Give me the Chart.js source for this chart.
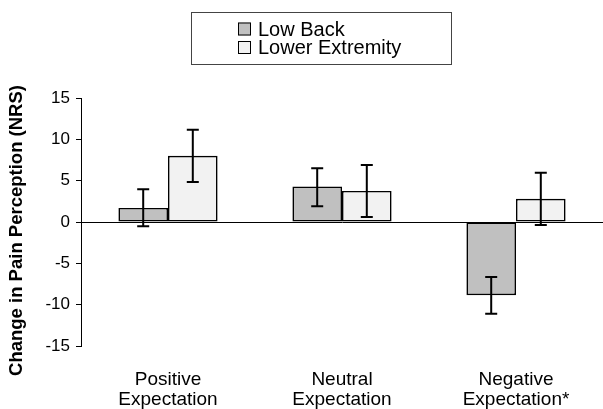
<!DOCTYPE html>
<html>
<head>
<meta charset="utf-8">
<script src="https://cdn.jsdelivr.net/npm/chart.js@4.4.0/dist/chart.umd.min.js"></script>
<style>
html,body{margin:0;padding:0;background:#fff;}
#wrap{width:603px;height:409px;position:relative;}
</style>
</head>
<body>
<div id="wrap"><canvas id="c" width="603" height="409"></canvas></div>
<script>
const categories = [["Positive","Expectation"],["Neutral","Expectation"],["Negative","Expectation*"]];
const seriesNames = ["Low Back","Lower Extremity"];
const lowBack = [1.7, 4.3, -8.85];
const lowBackErrLow = [-0.5, 1.9, -11.1];
const lowBackErrHigh = [3.95, 6.5, -6.65];
const lowerExt = [8.0, 3.75, 2.8];
const lowerExtErrLow = [4.85, 0.6, -0.35];
const lowerExtErrHigh = [11.15, 6.9, 5.95];
const yTicks = [-15, -10, -5, 0, 5, 10, 15];
const yTitle = "Change in Pain Perception (NRS)";

const FONT = "'Liberation Sans', Arial, Helvetica, sans-serif";

const errorBars = {
  id: 'errorBars',
  afterDatasetsDraw(chart) {
    const ctx = chart.ctx;
    const ys = chart.scales.y;
    chart.data.datasets.forEach((ds, i) => {
      const meta = chart.getDatasetMeta(i);
      meta.data.forEach((bar, j) => {
        const x = bar.x;
        const y1 = ys.getPixelForValue(ds.errLow[j]);
        const y2 = ys.getPixelForValue(ds.errHigh[j]);
        ctx.save();
        ctx.strokeStyle = '#000';
        ctx.lineWidth = 2;
        ctx.beginPath();
        ctx.moveTo(x, y1); ctx.lineTo(x, y2);
        ctx.moveTo(x - 6, y1); ctx.lineTo(x + 6, y1);
        ctx.moveTo(x - 6, y2); ctx.lineTo(x + 6, y2);
        ctx.stroke();
        ctx.restore();
      });
    });
  }
};

const boxLegend = {
  id: 'boxLegend',
  afterDraw(chart) {
    const ctx = chart.ctx;
    ctx.save();
    ctx.strokeStyle = '#444';
    ctx.lineWidth = 1;
    ctx.strokeRect(191.5, 12.5, 260, 52);
    ctx.font = "20px " + FONT;
    ctx.textBaseline = 'middle';
    const rows = [29, 47.5];
    chart.data.datasets.forEach((ds, i) => {
      const cy = rows[i];
      ctx.fillStyle = ds.backgroundColor;
      ctx.fillRect(238, cy - 6.5, 13, 13);
      ctx.strokeStyle = '#000';
      ctx.lineWidth = 1;
      ctx.strokeRect(238.5, cy - 6, 12, 12);
      ctx.fillStyle = '#000';
      ctx.fillText(ds.label, 258, cy + 1);
    });
    // vertical axis title
    ctx.translate(17, 230.5);
    ctx.rotate(-Math.PI / 2);
    ctx.font = "bold 18.5px " + FONT;
    ctx.textAlign = 'center';
    ctx.textBaseline = 'middle';
    ctx.fillStyle = '#000';
    ctx.fillText(yTitle, 0, 0);
    ctx.restore();
  }
};

new Chart(document.getElementById('c'), {
  type: 'bar',
  data: {
    labels: categories,
    datasets: [
      { label: seriesNames[0], data: lowBack, errLow: lowBackErrLow, errHigh: lowBackErrHigh,
        backgroundColor: '#c0c0c0', borderColor: '#000', borderWidth: 1.6, borderSkipped: false },
      { label: seriesNames[1], data: lowerExt, errLow: lowerExtErrLow, errHigh: lowerExtErrHigh,
        backgroundColor: '#f2f2f2', borderColor: '#000', borderWidth: 1.6, borderSkipped: false }
    ]
  },
  options: {
    responsive: false,
    animation: false,
    devicePixelRatio: 1,
    layout: { padding: { top: 98, right: 0, bottom: 0, left: 0 } },
    plugins: { legend: { display: false }, tooltip: { enabled: false } },
    datasets: { bar: { barPercentage: 1, categoryPercentage: 0.57 } },
    scales: {
      x: {
        grid: { display: false },
        border: { display: false },
        ticks: { color: '#000', font: { family: FONT, size: 19, lineHeight: 1.05 }, padding: 16, maxRotation: 0 },
        afterFit(s) { s.height = 63; }
      },
      y: {
        min: -15, max: 15,
        afterBuildTicks(s) { s.ticks = yTicks.map(v => ({ value: v })); },
        grid: {
          color: c => (c.tick && c.tick.value === 0) ? '#000' : 'rgba(0,0,0,0)',
          tickColor: '#000', tickLength: 5, lineWidth: 1
        },
        border: { display: true, color: '#000', width: 1 },
        ticks: { color: '#000', font: { family: FONT, size: 17 }, padding: 6 },
        title: { display: false, text: yTitle },
        afterFit(s) { s.width = 81; }
      }
    }
  },
  plugins: [errorBars, boxLegend]
});
</script>
</body>
</html>
